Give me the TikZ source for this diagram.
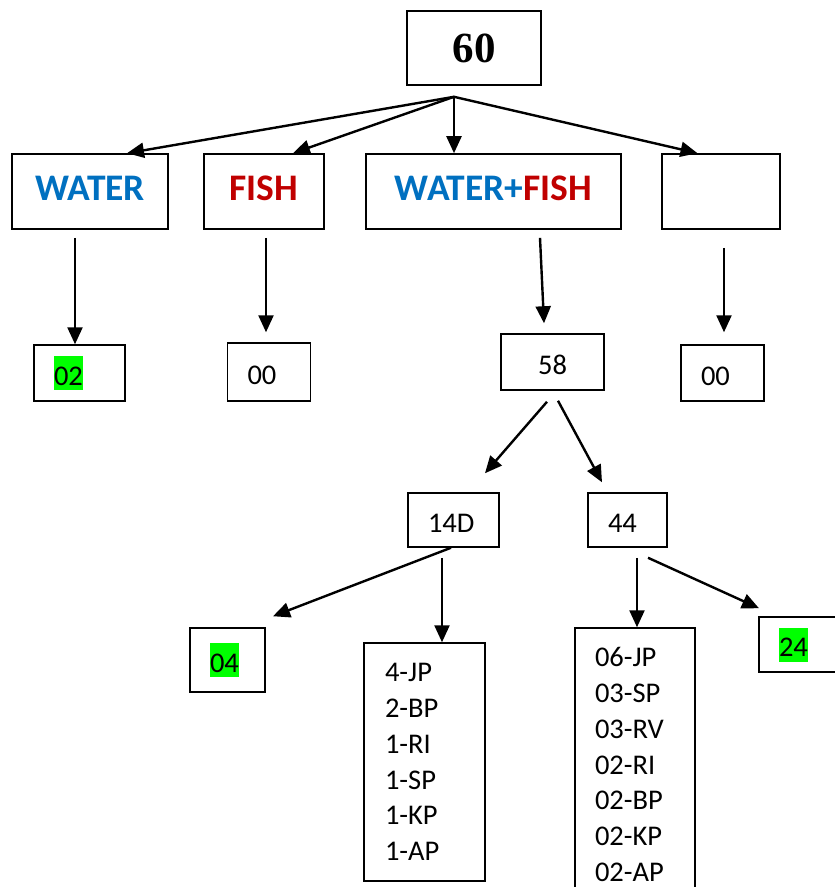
\documentclass[tikz,border=0pt]{standalone}
\usepackage{fontspec}
\setmainfont{Carlito}
\newfontfamily\timesfont{Liberation Serif}
\usepackage{xcolor}
\usetikzlibrary{arrows.meta,positioning}

\definecolor{wblue}{HTML}{0070C0}
\definecolor{fred}{HTML}{C00000}
\definecolor{hgreen}{HTML}{00FF00}
\newcommand{\hlgreen}[1]{{\setlength{\fboxsep}{0pt}\colorbox{hgreen}{\rule[-5pt]{0pt}{34pt}#1}}}

\begin{document}
\begin{tikzpicture}[
    x=1pt, y=-1pt,
    topbox/.style={rectangle, draw, line width=1.6pt, inner sep=0pt, minimum height=75pt, font=\fontsize{37.5}{44}\selectfont\bfseries, text height=23pt, text depth=6pt},
    leafbox/.style={rectangle, draw, line width=1.5pt, inner ysep=0pt, inner xsep=20pt, align=left, font=\fontsize{28.5}{34}\selectfont, text height=29pt, text depth=5pt},
    listbox/.style={rectangle, draw, line width=1.5pt, inner ysep=0pt, inner xsep=20pt, align=left, font=\fontsize{28.5}{35.7}\selectfont},
    arrow/.style={-{Triangle[length=17pt,width=15pt]}, line width=2.4pt}
]
    \useasboundingbox (0,0) rectangle (835,887);

    \node [rectangle, draw, line width=1.6pt, minimum width=134pt, minimum height=74pt, font=\timesfont\fontsize{43}{50}\selectfont\bfseries, text height=29pt, text depth=0pt] (n60) at (474,48) {60};

    \node [topbox, minimum width=156pt] (water) at (90,191.5) {\textcolor{wblue}{WATER}};
    \node [topbox, minimum width=119.5pt] (fish) at (264,191.5) {\textcolor{fred}{FISH}};
    \node [topbox, minimum width=255pt] (wf) at (493.5,191.5) {\textcolor{wblue}{WATER+}\textcolor{fred}{FISH}};
    \node [topbox, minimum width=118pt] (empty) at (721,191.5) {};

    \node [leafbox, text width=51pt, minimum height=56pt] (r02) at (79.5,373) {\hlgreen{02}};
    \node [leafbox, text width=43pt, minimum height=58pt] (r00a) at (269,372) {00};
    \node [leafbox, text width=63pt, minimum height=56pt, align=center] (r58) at (552.5,362) {58};
    \node [leafbox, text width=43pt, minimum height=56pt] (r00b) at (722.5,373) {00};

    \node [leafbox, text width=51pt, minimum height=54pt] (r14) at (453.5,520) {14D};
    \node [leafbox, text width=39pt, minimum height=54pt] (r44) at (627.5,520) {44};

    \node [leafbox, text width=35pt, minimum height=64pt] (r04) at (227.5,660) {\hlgreen{04}};
    \node [listbox, inner xsep=21pt, text width=79pt, minimum height=238pt] (l14) at (424.5,762) {4-JP\\2-BP\\1-RI\\1-SP\\1-KP\\1-AP};
    \node [listbox, text width=80pt, minimum height=273pt] (l44) at (635,764.5) {06-JP\\03-SP\\03-RV\\02-RI\\02-BP\\02-KP\\02-AP};
    \node [leafbox, text width=40pt, minimum height=55pt] (r24) at (799,644.5) {\hlgreen{24}};

    \coordinate (hub) at ([xshift=-20pt,yshift=-11pt]n60.south);

    \draw [arrow] (hub) -- ([xshift=37pt]water.north);
    \draw [arrow] (hub) -- ([xshift=29pt]fish.north);
    \draw [arrow] (hub) -- ([xshift=-39.5pt]wf.north);
    \draw [arrow] (hub) -- ([xshift=-23.5pt]empty.north);

    \draw [arrow] ([xshift=-15pt,yshift=-8pt]water.south) -- ([xshift=-4.5pt]r02.north);
    \draw [arrow] ([xshift=2pt,yshift=-8pt]fish.south) -- ([xshift=-3pt,yshift=10pt]r00a.north);
    \draw [arrow] ([xshift=46.5pt,yshift=-8pt]wf.south) -- ([xshift=-8.5pt,yshift=10pt]r58.north);
    \draw [arrow] ([xshift=3pt,yshift=-18pt]empty.south) -- ([xshift=1.5pt,yshift=12pt]r00b.north);

    \draw [arrow] ([xshift=-5.5pt,yshift=-11pt]r58.south) -- ([xshift=31.5pt,yshift=19pt]r14.north);
    \draw [arrow] ([xshift=5.5pt,yshift=-10pt]r58.south) -- ([xshift=-25.5pt,yshift=10pt]r44.north);

    \draw [arrow] ([xshift=-2.5pt]r14.south) -- ([xshift=45.5pt,yshift=11pt]r04.north);
    \draw [arrow] ([xshift=-11.5pt,yshift=-10pt]r14.south) -- ([xshift=17.5pt]l14.north);
    \draw [arrow] ([xshift=9.5pt,yshift=-10pt]r44.south) -- ([xshift=2pt]l44.north);
    \draw [arrow] ([xshift=20.5pt,yshift=-10pt]r44.south) -- ([xshift=-40pt,yshift=8pt]r24.north);
\end{tikzpicture}
\end{document}
